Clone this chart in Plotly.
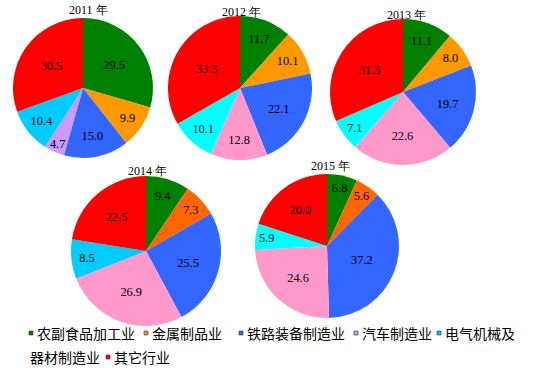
import plotly.graph_objects as go

categories = ["农副食品加工业", "金属制品业", "铁路装备制造业", "汽车制造业", "电气机械及器材制造业", "其它行业"]
years = ["2011 年", "2012 年", "2013 年", "2014 年", "2015 年"]
v2011 = [29.5, 9.9, 15.0, 4.7, 10.4, 30.5]
v2012 = [11.7, 10.1, 22.1, 12.8, 10.1, 33.3]
v2013 = [11.1, 8.0, 19.7, 22.6, 7.1, 31.5]
v2014 = [9.4, 7.3, 25.5, 26.9, 8.5, 22.5]
v2015 = [6.8, 5.6, 37.2, 24.6, 5.9, 20.0]
values = [v2011, v2012, v2013, v2014, v2015]

colors = {
    "2011 年": ["#008000", "#FF9900", "#3366FF", "#CC99FF", "#00CCFF", "#FF0000"],
    "2012 年": ["#008000", "#FF9900", "#3366FF", "#FF99CC", "#00FFFF", "#FF0000"],
    "2013 年": ["#008000", "#FF9900", "#3366FF", "#FF99CC", "#00FFFF", "#FF0000"],
    "2014 年": ["#008000", "#FF6600", "#3366FF", "#FF99CC", "#00CCFF", "#FF0000"],
    "2015 年": ["#008000", "#FF6600", "#3366FF", "#FF99CC", "#00FFFF", "#FF0000"],
}
legend_colors = ["#008000", "#FF9900", "#3366FF", "#CC99FF", "#00CCFF", "#FF0000"]

W, H = 560, 368
# pie layout in pixels: center x, center y, radius, title x, title y
geom = [(83, 88, 70, 88, 10), (240, 88, 72, 241, 12), (403, 92, 73, 406, 15),
        (146, 251, 75, 147, 171), (327, 246, 72, 330, 166)]

def px(x):
    return x / W

def py(y):
    return 1 - y / H

fig = go.Figure()
annotations = []
for yr, vals, (cx, cy, r, tx, ty) in zip(years, values, geom):
    fig.add_trace(go.Pie(
        labels=categories, values=vals, sort=False, direction="clockwise",
        rotation=0, marker=dict(colors=colors[yr], line=dict(width=0)),
        texttemplate="%{value:.1f}", textposition="inside",
        insidetextorientation="horizontal",
        textfont=dict(family="Liberation Serif", size=13, color="black"),
        domain=dict(x=[px(cx - r), px(cx + r)], y=[py(cy + r), py(cy - r)]),
        showlegend=False, hoverinfo="label+value",
    ))
    annotations.append(dict(text=yr, x=px(tx), y=py(ty), xref="paper", yref="paper",
                            showarrow=False, xanchor="center", yanchor="middle",
                            font=dict(family="Liberation Serif", size=12, color="black")))

# legend (wrapped in two lines as in the reference)
leg_font = dict(family="Noto Sans CJK SC", size=14, color="black")
line1 = [(0, 35), (1, 150), (2, 245), (3, 360), (4, 443)]
shapes = []
for i, x0 in line1:
    txt = categories[i] if i != 4 else categories[4][:5]
    annotations.append(dict(text=txt, x=px(x0), y=py(333), xref="paper", yref="paper",
                            showarrow=False, xanchor="left", yanchor="middle", font=leg_font))
    shapes.append(dict(type="rect", xref="paper", yref="paper",
                       x0=px(x0 - 6), x1=px(x0 - 2), y0=py(335), y1=py(331),
                       fillcolor=legend_colors[i], line=dict(color="#333333", width=0.6)))
annotations.append(dict(text=categories[4][5:], x=px(28), y=py(357), xref="paper", yref="paper",
                        showarrow=False, xanchor="left", yanchor="middle", font=leg_font))
annotations.append(dict(text=categories[5], x=px(112), y=py(357), xref="paper", yref="paper",
                        showarrow=False, xanchor="left", yanchor="middle", font=leg_font))
shapes.append(dict(type="rect", xref="paper", yref="paper",
                   x0=px(106), x1=px(110), y0=py(359), y1=py(355),
                   fillcolor=legend_colors[5], line=dict(color="#333333", width=0.6)))

fig.update_layout(
    width=W, height=H, margin=dict(l=0, r=0, t=0, b=0),
    paper_bgcolor="white", plot_bgcolor="white",
    annotations=annotations, shapes=shapes,
    uniformtext=dict(minsize=12, mode="show"),
)
fig.write_html("out.html", config={"displayModeBar": False},
               post_script="document.body.style.margin='0';document.body.style.overflow='hidden';")
